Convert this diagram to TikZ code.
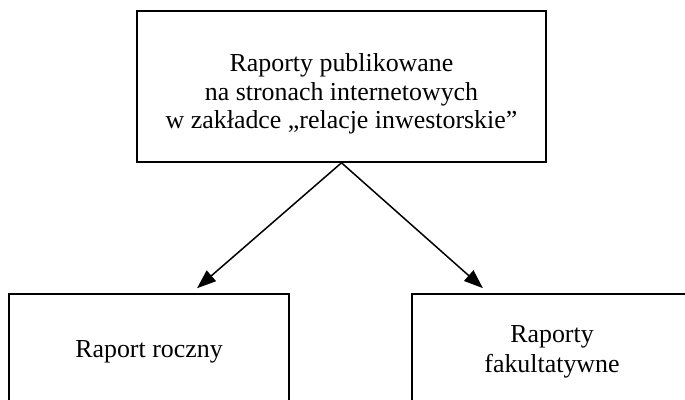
\documentclass[tikz,border=0pt]{standalone}
\usepackage{fontspec}
\setmainfont{Liberation Serif}
\usetikzlibrary{arrows.meta}
\begin{document}
\begin{tikzpicture}[x=1pt,y=1pt,
  box/.style={draw, line width=1.6pt, inner sep=0pt},
  txt/.style={font=\fontsize{25.9pt}{28.3pt}\selectfont, align=center, inner sep=0pt},
  txtwide/.style={font=\fontsize{25.9pt}{30.6pt}\selectfont, align=center, inner sep=0pt},
  conn/.style={line width=1.5pt, -{Triangle[length=19pt,width=14pt]}, shorten >=7.6pt}]
\useasboundingbox (0,0) rectangle (685,399);
\clip (0,0) rectangle (685,399);

% upper box
\node[box, minimum width=409pt, minimum height=151pt] (top) at (341.5,312.5) {};
\node[txt] (topText) at (341.5,305) {Raporty publikowane\\na stronach internetowych\\w zakładce „relacje inwestorskie”};

% lower boxes (run past the lower edge)
\node[box, txt, minimum width=280pt, minimum height=116pt] (left) at (149,47) {Raport roczny};
\node[box, txtwide, minimum width=280pt, minimum height=116pt] (right) at (552,47) {Raporty\\fakultatywne};

% connectors
\draw[conn] (top.south) -- ([xshift=42.3pt]left.north);
\draw[conn] (top.south) -- ([xshift=-63.4pt]right.north);
\end{tikzpicture}
\end{document}
